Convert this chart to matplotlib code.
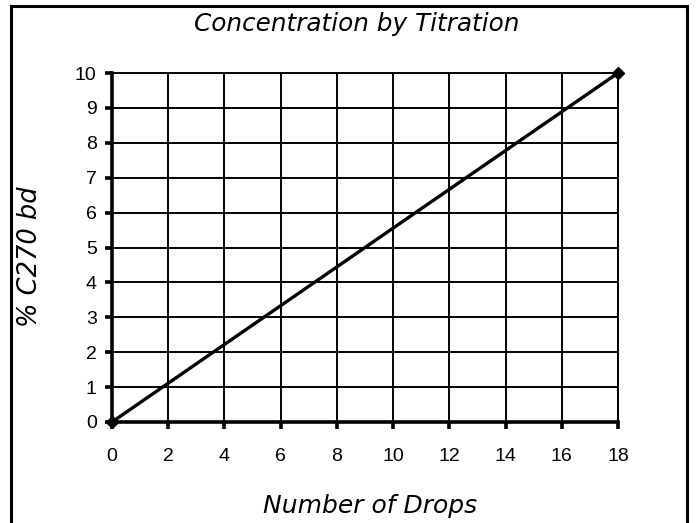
import matplotlib
matplotlib.use('Agg')
import matplotlib.pyplot as plt
from matplotlib.patches import Rectangle

# data
drops = [0, 18]
concentration = [0, 10]
x_ticks = list(range(0, 19, 2))
y_ticks = list(range(0, 11))

fig = plt.figure(figsize=(6.96, 5.23), dpi=100)
ax = fig.add_axes([112 / 696, 1 - 422 / 523, 506 / 696, 349 / 523])

# outer frame of the chart area
fig.patches.append(Rectangle((11 / 696, -0.01), 676 / 696, 1 - 6 / 523 + 0.01,
                             transform=fig.transFigure, fill=False,
                             edgecolor='black', linewidth=2.2))

ax.plot(drops, concentration, color='black', linewidth=2.4,
        marker='D', markersize=6, clip_on=False, zorder=5)

ax.set_xlim(0, 18)
ax.set_ylim(0, 10)
ax.set_xticks(x_ticks)
ax.set_yticks(y_ticks)
ax.grid(True, color='black', linewidth=1.4)

for side in ['top', 'right']:
    ax.spines[side].set_linewidth(1.4)
for side in ['left', 'bottom']:
    ax.spines[side].set_linewidth(2.6)

ax.tick_params(axis='x', direction='out', length=5, width=2.6,
               labelsize=14, pad=13.5)
ax.tick_params(axis='y', direction='out', length=5, width=2.6,
               labelsize=14, pad=6)
for lbl in ax.get_xticklabels() + ax.get_yticklabels():
    lbl.set_family('Liberation Sans')

fig.text(357 / 696, 1 - 24 / 523, 'Concentration by Titration', ha='center', va='center',
         fontsize=17.8, style='italic', family='DejaVu Sans')
fig.text(370 / 696, 1 - 506 / 523, 'Number of Drops', ha='center', va='center',
         fontsize=18, style='italic', family='DejaVu Sans')
fig.text(30 / 696, 1 - 257 / 523, '% C270 bd', ha='center', va='center',
         rotation=90, fontsize=18.5, style='italic', family='DejaVu Sans')

fig.savefig('out.png', dpi=100)
